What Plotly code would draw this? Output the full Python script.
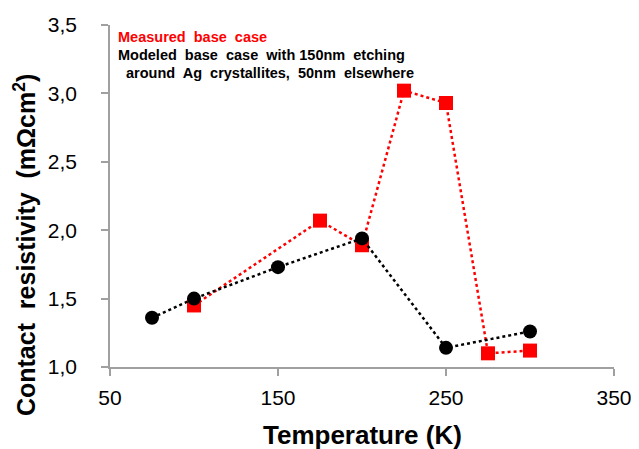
import plotly.graph_objects as go

measured_T = [100, 175, 200, 225, 250, 275, 300]
measured_rho = [1.45, 2.07, 1.89, 3.02, 2.93, 1.10, 1.12]
modeled_T = [75, 100, 150, 200, 250, 300]
modeled_rho = [1.36, 1.50, 1.73, 1.94, 1.14, 1.26]

x_ticks = [50, 150, 250, 350]
y_ticks = [1.0, 1.5, 2.0, 2.5, 3.0, 3.5]

fig = go.Figure()
fig.add_trace(go.Scatter(
    x=measured_T, y=measured_rho, mode="lines+markers", name="Measured base case",
    line=dict(color="#ff0000", width=2.5, dash="dot"),
    marker=dict(symbol="square", size=14, color="#ff0000"),
))
fig.add_trace(go.Scatter(
    x=modeled_T, y=modeled_rho, mode="lines+markers",
    name="Modeled base case with 150nm etching around Ag crystallites, 50nm elsewhere",
    line=dict(color="#000000", width=2.5, dash="dot"),
    marker=dict(symbol="circle", size=14, color="#000000"),
))

font_family = "Liberation Sans, Arial, sans-serif"
fig.update_layout(
    width=639, height=449,
    margin=dict(l=102, r=33, t=17, b=90),
    paper_bgcolor="white", plot_bgcolor="white",
    showlegend=False,
    separators=", ",
    font=dict(family=font_family, color="#000000"),
    xaxis=dict(
        range=[50, 350], tickvals=x_ticks, ticktext=[str(v) for v in x_ticks],
        showgrid=False, zeroline=False, showline=True, linecolor="#a0a0a0", linewidth=1.5,
        ticks="outside", ticklen=7, tickcolor="#a0a0a0", tickwidth=1.5,
        tickfont=dict(size=21), automargin=False, ticklabelstandoff=4,
    ),
    yaxis=dict(
        range=[1.0, 3.5], tickvals=y_ticks, tickformat=".1f",
        showgrid=False, zeroline=False, showline=True, linecolor="#a0a0a0", linewidth=1.5,
        ticks="outside", ticklen=7, tickcolor="#a0a0a0", tickwidth=1.5,
        tickfont=dict(size=21), automargin=False, ticklabelstandoff=20,
    ),
    annotations=[
        dict(xref="paper", yref="paper", x=0.5, y=-0.199, xanchor="center", yanchor="middle",
             text="<b>Temperature (K)</b>", showarrow=False,
             font=dict(size=26, color="#000000", family=font_family)),
        dict(xref="paper", yref="paper", x=-0.169, y=0.356, xanchor="center", yanchor="middle",
             textangle=-90,
             text="<b>Contact  resistivity  (mΩcm<sup>2</sup>)</b>", showarrow=False,
             font=dict(size=25, color="#000000", family=font_family)),
        dict(xref="paper", yref="paper", x=0.012, y=0.966, xanchor="left", yanchor="middle",
             text="<b>Measured  base  case</b>", showarrow=False,
             font=dict(size=14.5, color="#ff0000", family=font_family)),
        dict(xref="paper", yref="paper", x=0.012, y=0.913, xanchor="left", yanchor="middle",
             text="<b>Modeled  base  case  with 150nm  etching</b>", showarrow=False,
             font=dict(size=14.5, color="#000000", family=font_family)),
        dict(xref="paper", yref="paper", x=0.012, y=0.860, xanchor="left", yanchor="middle",
             text="<b>  around  Ag  crystallites,  50nm  elsewhere</b>", showarrow=False,
             font=dict(size=14.5, color="#000000", family=font_family)),
    ],
)

fig.write_html("out.html")
